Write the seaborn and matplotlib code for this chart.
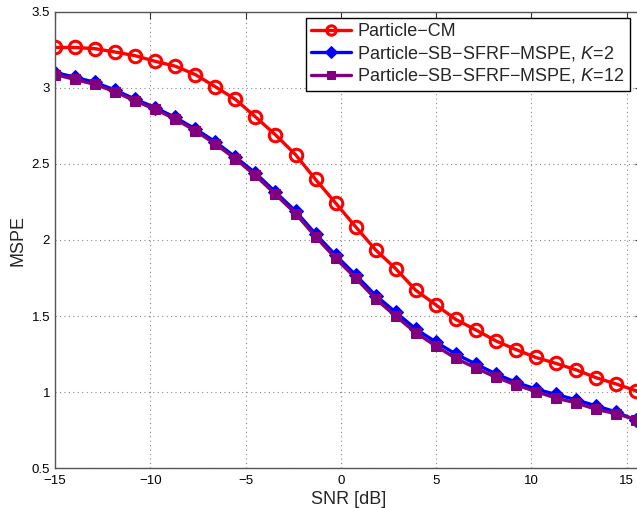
import numpy as np
import matplotlib
matplotlib.use('Agg')
import matplotlib.pyplot as plt
import seaborn as sns

# SNR grid (30 points, last one sits at the cropped right edge)
snr = np.linspace(-15, 15.5, 30)

mspe_cm = [3.265, 3.265, 3.257, 3.235, 3.211, 3.174, 3.142, 3.087, 3.007, 2.924,
           2.809, 2.691, 2.561, 2.398, 2.243, 2.087, 1.935, 1.811, 1.670, 1.574,
           1.478, 1.409, 1.337, 1.280, 1.228, 1.189, 1.147, 1.095, 1.054, 1.009]
mspe_k2 = [3.100, 3.070, 3.035, 2.985, 2.925, 2.870, 2.805, 2.730, 2.645, 2.545,
           2.440, 2.315, 2.190, 2.040, 1.900, 1.770, 1.635, 1.525, 1.415, 1.330,
           1.250, 1.185, 1.120, 1.065, 1.020, 0.985, 0.950, 0.910, 0.870, 0.815]
mspe_k12 = [3.087, 3.055, 3.022, 2.974, 2.913, 2.859, 2.794, 2.718, 2.631, 2.533,
            2.424, 2.300, 2.174, 2.022, 1.880, 1.750, 1.613, 1.500, 1.391, 1.304,
            1.222, 1.159, 1.098, 1.048, 1.004, 0.961, 0.930, 0.887, 0.859, 0.820]

labels = ['Particle\u2212CM',
          'Particle\u2212SB\u2212SFRF\u2212MSPE, $\\mathit{K}$=$\\mathit{2}$',
          'Particle\u2212SB\u2212SFRF\u2212MSPE, $\\mathit{K}$=$\\mathit{12}$']

sns.set_style('white')
plt.rcParams['font.family'] = ['Liberation Sans', 'DejaVu Sans']
plt.rcParams['mathtext.fontset'] = 'custom'
plt.rcParams['mathtext.it'] = 'Liberation Sans:italic'
plt.rcParams['mathtext.rm'] = 'Liberation Sans'

W, H = 637, 508
fig = plt.figure(figsize=(W / 100, H / 100), dpi=100)
# axes runs a little past the right edge of the canvas (cropped like the original)
px_per_db = (626.7 - 55) / 30
x_right = 15.8
ax = fig.add_axes([55 / W, (H - 468.3) / H,
                   (x_right + 15) * px_per_db / W, (468.3 - 11.7) / H])

sns.lineplot(x=snr, y=mspe_cm, ax=ax, color='#ff0000', lw=2.4, marker='o',
             markersize=9, markerfacecolor='none', markeredgecolor='#ff0000',
             markeredgewidth=2.2, label=labels[0])
sns.lineplot(x=snr, y=mspe_k2, ax=ax, color='#0000ff', lw=2.4, marker='D',
             markersize=7.5, markeredgecolor='#0000ff', label=labels[1])
sns.lineplot(x=snr, y=mspe_k12, ax=ax, color='#800080', lw=2.4, marker='s',
             markersize=7, markeredgecolor='#800080', label=labels[2])

ax.set_xlim(-15, x_right)
ax.set_ylim(0.5, 3.5)
ax.set_xticks([-15, -10, -5, 0, 5, 10, 15])
ax.set_yticks([0.5, 1, 1.5, 2, 2.5, 3, 3.5])
ax.set_yticklabels(['0.5', '1', '1.5', '2', '2.5', '3', '3.5'])
ax.grid(True, linestyle=(0, (1, 3)), color='#888888', lw=0.8)
ax.tick_params(direction='in', top=True, right=True, length=5, width=0.8,
               labelsize=9.5, colors='#333333', labelcolor='black')
ax.tick_params(axis='x', pad=5)
for s in ax.spines.values():
    s.set_color('#555555')
    s.set_linewidth(1.0)

ax.set_xlabel('SNR [dB]', fontsize=13, labelpad=3)
ax.set_ylabel('MSPE', fontsize=13, labelpad=4)

ax.legend(loc='upper right', bbox_to_anchor=(630 / W, 1 - 17.7 / H),
          bbox_transform=fig.transFigure, fontsize=13, frameon=True,
          fancybox=False, edgecolor='black', framealpha=1, borderpad=0.3,
          labelspacing=0.2, handlelength=2.2, handletextpad=0.35,
          borderaxespad=0, markerscale=0.75)

fig.savefig('out.png', dpi=100)
